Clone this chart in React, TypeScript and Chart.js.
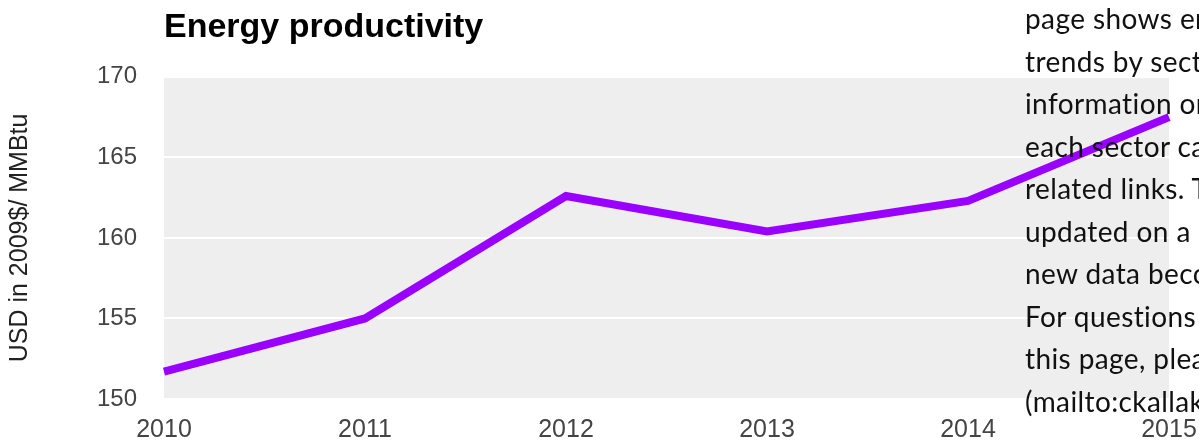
import React, { useEffect, useRef } from "react";
import { Chart, registerables } from "chart.js";

Chart.register(...registerables);

const years = ["2010", "2011", "2012", "2013", "2014", "2015"];
const productivity = [151.7, 155.0, 162.6, 160.4, 162.3, 167.5];
const yTicks = [150, 155, 160, 165, 170];
const chartTitle = "Energy productivity";
const yAxisTitle = "USD in 2009$/ MMBtu";
const overlayLines = [
  "page shows energy",
  "trends by sector.",
  "information on",
  "each sector can be",
  "related links. This",
  "updated on a regular",
  "new data become",
  "For questions about",
  "this page, please",
  "(mailto:ckallakuri",
];

const plotBackground = {
  id: "plotBackground",
  beforeDraw(chart: any) {
    const { ctx, chartArea } = chart;
    if (!chartArea) return;
    ctx.save();
    ctx.fillStyle = "#eeeeee";
    ctx.fillRect(chartArea.left, chartArea.top, chartArea.right - chartArea.left, chartArea.bottom - chartArea.top);
    ctx.restore();
  },
};

export default function App() {
  const canvasRef = useRef<HTMLCanvasElement | null>(null);

  useEffect(() => {
    const canvas = canvasRef.current;
    if (!canvas) return;
    Chart.defaults.font.family = "'Liberation Sans', Arial, sans-serif";
    const chart = new Chart(canvas, {
      type: "line",
      data: {
        labels: years,
        datasets: [
          {
            data: productivity,
            borderColor: "#9900ff",
            backgroundColor: "#9900ff",
            borderWidth: 8,
            pointRadius: 0,
            pointHoverRadius: 0,
            tension: 0,
            fill: false,
          },
        ],
      },
      options: {
        animation: false,
        responsive: false,
        maintainAspectRatio: false,
        layout: { padding: { left: 0, right: 30, top: 0, bottom: 0 } },
        plugins: {
          legend: { display: false },
          tooltip: { enabled: false },
          title: {
            display: true,
            text: chartTitle,
            align: "start",
            fullSize: false,
            color: "#000000",
            font: { size: 34, weight: "bold" },
            padding: { top: 7, bottom: 29 },
          },
        },
        scales: {
          x: {
            type: "category",
            offset: false,
            grid: { display: false, drawTicks: false },
            border: { display: false },
            ticks: { color: "#444444", font: { size: 25 }, padding: 16, maxRotation: 0, autoSkip: false },
            afterFit: (scale: any) => {
              scale.height = 45;
              scale.paddingLeft = 0;
              scale.paddingRight = 0;
            },
          },
          y: {
            min: yTicks[0],
            max: yTicks[yTicks.length - 1],
            afterBuildTicks: (scale: any) => {
              scale.ticks = yTicks.map((v) => ({ value: v }));
            },
            grid: { color: "#ffffff", lineWidth: 2, drawTicks: false },
            border: { display: false },
            ticks: { color: "#444444", font: { size: 24 }, padding: 27 },
            title: {
              display: true,
              text: yAxisTitle,
              color: "#222222",
              font: { size: 25 },
              padding: { top: 5, bottom: 0 },
            },
            afterFit: (scale: any) => {
              scale.width = 164;
            },
          },
        },
      },
      plugins: [plotBackground],
    });
    return () => chart.destroy();
  }, []);

  return (
    <div
      style={{
        position: "fixed",
        left: 0,
        top: 0,
        width: 1199,
        height: 444,
        overflow: "hidden",
        background: "#ffffff",
      }}
    >
      <canvas ref={canvasRef} width={1199} height={444} style={{ display: "block" }} />
      <div
        style={{
          position: "absolute",
          left: 1025,
          top: -3,
          fontFamily: "Lato, 'Noto Sans', sans-serif",
          fontSize: 28,
          lineHeight: "42.5px",
          letterSpacing: "0.4px",
          fontVariantLigatures: "none",
          color: "#111111",
          whiteSpace: "nowrap",
          pointerEvents: "none",
        }}
      >
        {overlayLines.map((line, i) => (
          <div key={i}>{line}</div>
        ))}
      </div>
    </div>
  );
}
